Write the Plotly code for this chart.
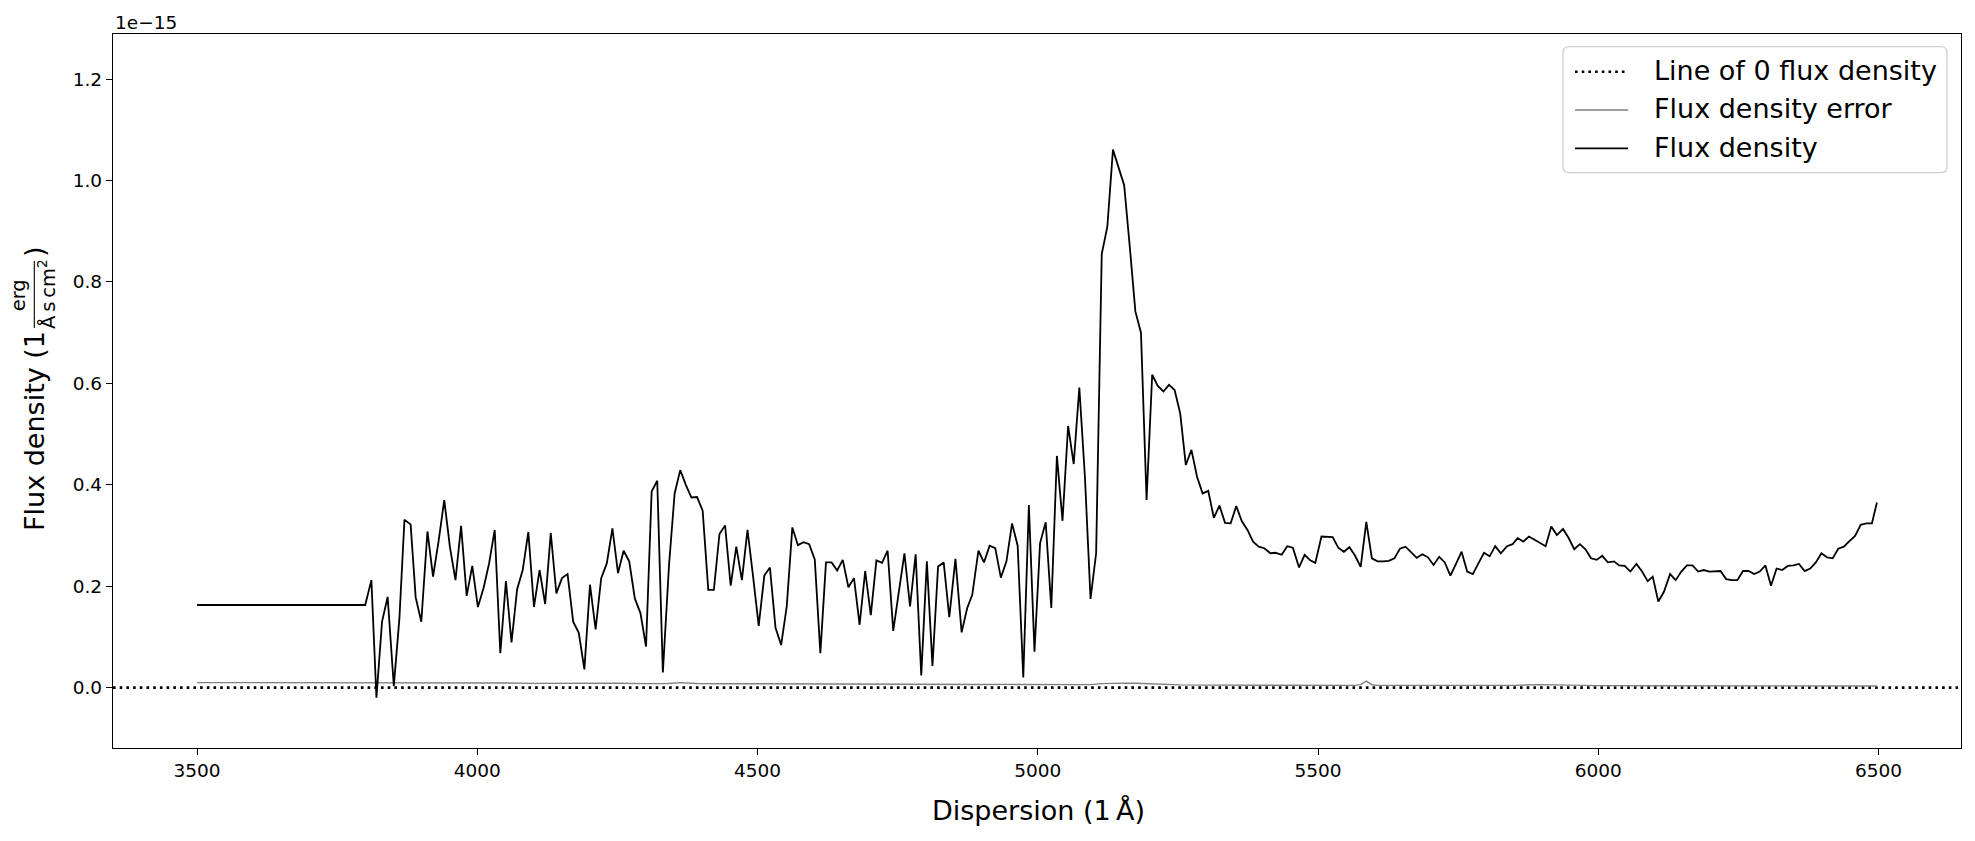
import plotly.graph_objects as go

# ---------------- data (flux in units of 1e-15 erg / (Å s cm²)) ----------------
wave = [3500, 3800, 3811, 3820, 3830, 3840, 3851, 3861, 3870, 3881, 3890, 3900,
        3911, 3921, 3931, 3941, 3951, 3961, 3971, 3981, 3991, 4001, 4011, 4021,
        4031, 4041, 4051, 4061, 4071, 4081, 4091, 4101, 4111, 4121, 4131, 4141,
        4151, 4161, 4171, 4181, 4191, 4201, 4211, 4221, 4231, 4241, 4251, 4261,
        4271, 4281, 4291, 4301, 4311, 4321, 4331, 4342, 4352, 4362, 4372, 4382,
        4392, 4402, 4412, 4422, 4432, 4442, 4452, 4462, 4472, 4482, 4492, 4502,
        4512, 4522, 4532, 4542, 4552, 4562, 4572, 4582, 4592, 4602, 4612, 4622,
        4632, 4642, 4652, 4662, 4672, 4682, 4692, 4702, 4712, 4722, 4732, 4742,
        4752, 4762, 4772, 4782, 4792, 4802, 4812, 4822, 4832, 4842, 4853, 4864,
        4874, 4883, 4894, 4904, 4914, 4924, 4934, 4944, 4954, 4964, 4974, 4984,
        4994, 5004, 5014, 5024, 5034, 5044, 5054, 5064, 5074, 5084, 5094, 5104,
        5114, 5124, 5134, 5144, 5154, 5164, 5174, 5184, 5194, 5204, 5214, 5224,
        5234, 5244, 5254, 5264, 5274, 5284, 5294, 5304, 5314, 5324, 5334, 5344,
        5354, 5364, 5374, 5384, 5394, 5404, 5415, 5424, 5435, 5445, 5455, 5466,
        5476, 5486, 5495, 5506, 5516, 5526, 5536, 5546, 5556, 5566, 5576, 5586,
        5596, 5606, 5616, 5626, 5636, 5646, 5656, 5666, 5676, 5686, 5696, 5706,
        5716, 5726, 5736, 5746, 5756, 5766, 5776, 5786, 5796, 5806, 5816, 5826,
        5837, 5847, 5856, 5866, 5876, 5887, 5897, 5906, 5916, 5926, 5937, 5947,
        5957, 5967, 5977, 5987, 5997, 6007, 6017, 6028, 6037, 6047, 6057, 6068,
        6078, 6088, 6097, 6107, 6117, 6128, 6138, 6148, 6158, 6168, 6178, 6188,
        6198, 6208, 6218, 6228, 6238, 6248, 6258, 6268, 6278, 6288, 6298, 6308,
        6318, 6328, 6338, 6348, 6358, 6368, 6378, 6388, 6398, 6408, 6418, 6428,
        6438, 6448, 6458, 6468, 6478, 6488, 6497]

flux = [0.163, 0.163, 0.212, -0.020, 0.130, 0.179, 0.003, 0.137, 0.331, 0.322, 0.178, 0.130,
        0.308, 0.219, 0.290, 0.370, 0.278, 0.212, 0.319, 0.181, 0.240, 0.159, 0.196, 0.245,
        0.311, 0.068, 0.210, 0.089, 0.194, 0.232, 0.307, 0.159, 0.232, 0.165, 0.305, 0.186,
        0.216, 0.224, 0.130, 0.108, 0.036, 0.203, 0.115, 0.216, 0.245, 0.314, 0.226, 0.270,
        0.249, 0.176, 0.147, 0.081, 0.387, 0.408, 0.030, 0.242, 0.383, 0.429, 0.400, 0.375,
        0.376, 0.349, 0.193, 0.193, 0.303, 0.320, 0.201, 0.278, 0.212, 0.311, 0.219, 0.122,
        0.221, 0.237, 0.118, 0.084, 0.160, 0.316, 0.281, 0.287, 0.283, 0.253, 0.068, 0.247,
        0.247, 0.231, 0.252, 0.198, 0.216, 0.124, 0.230, 0.143, 0.251, 0.246, 0.270, 0.112,
        0.189, 0.265, 0.160, 0.263, 0.024, 0.249, 0.043, 0.239, 0.247, 0.139, 0.254, 0.109,
        0.157, 0.183, 0.270, 0.247, 0.280, 0.275, 0.217, 0.249, 0.324, 0.280, 0.020, 0.360,
        0.071, 0.285, 0.326, 0.157, 0.457, 0.329, 0.516, 0.441, 0.592, 0.416, 0.175, 0.265,
        0.855, 0.909, 1.061, 1.026, 0.991, 0.870, 0.742, 0.700, 0.370, 0.617, 0.595, 0.584,
        0.597, 0.587, 0.541, 0.439, 0.469, 0.416, 0.383, 0.388, 0.335, 0.359, 0.325, 0.324,
        0.358, 0.328, 0.311, 0.288, 0.278, 0.275, 0.265, 0.266, 0.262, 0.279, 0.276, 0.237,
        0.262, 0.251, 0.246, 0.298, 0.297, 0.297, 0.276, 0.268, 0.277, 0.260, 0.238, 0.327,
        0.255, 0.249, 0.249, 0.250, 0.255, 0.274, 0.278, 0.268, 0.256, 0.263, 0.257, 0.242,
        0.258, 0.247, 0.221, 0.244, 0.268, 0.229, 0.224, 0.245, 0.266, 0.259, 0.279, 0.265,
        0.279, 0.283, 0.295, 0.288, 0.298, 0.291, 0.284, 0.279, 0.318, 0.301, 0.313, 0.295,
        0.273, 0.283, 0.273, 0.255, 0.252, 0.260, 0.247, 0.249, 0.241, 0.240, 0.229, 0.244,
        0.229, 0.210, 0.219, 0.170, 0.189, 0.224, 0.212, 0.229, 0.241, 0.241, 0.229, 0.232,
        0.229, 0.230, 0.230, 0.214, 0.212, 0.212, 0.230, 0.230, 0.224, 0.229, 0.241, 0.201,
        0.235, 0.232, 0.240, 0.241, 0.244, 0.230, 0.235, 0.247, 0.265, 0.257, 0.255, 0.274,
        0.278, 0.289, 0.299, 0.321, 0.324, 0.324, 0.365]

err_wave = [3500, 3800, 3811, 3830, 3860, 3900, 3950, 4000, 4050, 4100, 4150, 4200,
            4250, 4300, 4340, 4363, 4390, 4450, 4500, 4550, 4600, 4650, 4700, 4750,
            4800, 4850, 4900, 4950, 5000, 5050, 5094, 5114, 5134, 5154, 5174, 5194,
            5214, 5234, 5254, 5300, 5350, 5400, 5450, 5500, 5546, 5566, 5576, 5586,
            5596, 5606, 5650, 5700, 5750, 5800, 5850, 5894, 5950, 6000, 6100, 6200,
            6300, 6400, 6497]
err_flux = [0.0100, 0.0100, 0.0098, 0.0092, 0.0100, 0.0095, 0.0090, 0.0088, 0.0092, 0.0085, 0.0088, 0.0083,
            0.0086, 0.0080, 0.0082, 0.0100, 0.0082, 0.0078, 0.0075, 0.0077, 0.0072, 0.0070, 0.0072, 0.0068,
            0.0066, 0.0065, 0.0063, 0.0064, 0.0060, 0.0062, 0.0060, 0.0080, 0.0088, 0.0090, 0.0086, 0.0078,
            0.0072, 0.0065, 0.0055, 0.0050, 0.0048, 0.0046, 0.0045, 0.0045, 0.0044, 0.0045, 0.0060, 0.0130,
            0.0058, 0.0045, 0.0044, 0.0043, 0.0042, 0.0042, 0.0045, 0.0060, 0.0042, 0.0040, 0.0038, 0.0037,
            0.0036, 0.0035, 0.0034]

x_ticks = [3500, 4000, 4500, 5000, 5500, 6000, 6500]
y_ticks = [0.0, 0.2, 0.4, 0.6, 0.8, 1.0, 1.2]
legend_labels = ["Line of 0 flux density", "Flux density error", "Flux density"]

# ---------------- layout helpers (pixel -> paper) ----------------
W, H = 1975, 841
L, R, T, B = 113, 1961, 34, 748
FONT = "DejaVu Sans"


def px(xp):
    return (xp - L) / (R - L)


def py(yp):
    return (B - yp) / (B - T)


DOT = "2.6px,4.1px"

fig = go.Figure()
fig.add_trace(go.Scatter(x=err_wave, y=err_flux, mode="lines",
                         line=dict(color="#808080", width=1.4), showlegend=False,
                         name=legend_labels[1]))
fig.add_trace(go.Scatter(x=wave, y=flux, mode="lines",
                         line=dict(color="black", width=1.8), showlegend=False,
                         name=legend_labels[2]))

shapes = []
# zero line (axhline)
shapes.append(dict(type="line", xref="paper", yref="y", x0=0, x1=1, y0=0, y1=0,
                   line=dict(color="black", width=2.6, dash=DOT), layer="below"))

# custom matplotlib-like legend
lx0, lx1, ly0, ly1 = px(1563), px(1947), py(46.6), py(172.6)
rx, ry = 6 / (R - L), 6 / (B - T)
path = (f"M {lx0+rx},{ly0} L {lx1-rx},{ly0} Q {lx1},{ly0} {lx1},{ly0-ry} "
        f"L {lx1},{ly1+ry} Q {lx1},{ly1} {lx1-rx},{ly1} L {lx0+rx},{ly1} "
        f"Q {lx0},{ly1} {lx0},{ly1+ry} L {lx0},{ly0-ry} Q {lx0},{ly0} {lx0+rx},{ly0} Z")
shapes.append(dict(type="path", xref="paper", yref="paper", path=path,
                   fillcolor="rgba(255,255,255,0.8)",
                   line=dict(color="#d0d0d0", width=1.35), layer="above"))
rows = [71.7, 110.0, 148.3]
styles = [dict(color="black", width=2.6, dash=DOT),
          dict(color="#808080", width=1.4),
          dict(color="black", width=1.8)]
annotations = []
for yrow, st, lab in zip(rows, styles, legend_labels):
    shapes.append(dict(type="line", xref="paper", yref="paper",
                       x0=px(1575), x1=px(1628), y0=py(yrow), y1=py(yrow),
                       line=st, layer="above"))
    annotations.append(dict(xref="paper", yref="paper", x=px(1651.7), y=py(yrow - 1),
                            xanchor="left", yanchor="middle", showarrow=False,
                            text=lab, font=dict(family=FONT, size=27, color="black")))

# y-axis label built like matplotlib's mathtext fraction
annotations.append(dict(xref="paper", yref="paper", x=px(34), y=py(431),
                        xanchor="center", yanchor="middle", showarrow=False, textangle=-90,
                        text="Flux density (1", font=dict(family=FONT, size=27, color="black")))
annotations.append(dict(xref="paper", yref="paper", x=px(18.3), y=py(295),
                        xanchor="center", yanchor="middle", showarrow=False, textangle=-90,
                        text="erg", font=dict(family=FONT, size=19.5, color="black")))
annotations.append(dict(xref="paper", yref="paper", x=px(47), y=py(294),
                        xanchor="center", yanchor="middle", showarrow=False, textangle=-90,
                        text="Å\u2009s\u2009cm<sup>2</sup>",
                        font=dict(family=FONT, size=19.5, color="black")))
annotations.append(dict(xref="paper", yref="paper", x=px(34), y=py(252),
                        xanchor="center", yanchor="middle", showarrow=False, textangle=-90,
                        text=")", font=dict(family=FONT, size=27, color="black")))
shapes.append(dict(type="line", xref="paper", yref="paper",
                   x0=px(34.3), x1=px(34.3), y0=py(261), y1=py(328),
                   line=dict(color="black", width=1.1)))

# x-axis title
annotations.append(dict(xref="paper", yref="paper", x=px(1038), y=py(810.7),
                        xanchor="center", yanchor="middle", showarrow=False,
                        text="Dispersion (1\u2009Å)", font=dict(family=FONT, size=27, color="black")))
# offset text
annotations.append(dict(xref="paper", yref="paper", x=0, y=py(22.6),
                        xanchor="left", yanchor="middle", showarrow=False,
                        text="1e\u221215", font=dict(family=FONT, size=18.5, color="black")))

axis_common = dict(showgrid=False, zeroline=False, showline=True, mirror=True,
                   linecolor="black", linewidth=1.35, ticks="outside", ticklen=6,
                   tickwidth=1.35, tickcolor="black",
                   tickfont=dict(family=FONT, size=18.5, color="black"))

fig.update_layout(
    width=W, height=H, autosize=False,
    margin=dict(l=L, r=W - R, t=T, b=H - B, pad=0),
    paper_bgcolor="white", plot_bgcolor="white",
    font=dict(family=FONT, color="black"),
    xaxis=dict(range=[3350, 6647], tickvals=x_ticks,
               ticktext=[str(v) for v in x_ticks], **axis_common),
    yaxis=dict(range=[-0.119, 1.289], tickvals=y_ticks,
               ticktext=[f"{v:.1f}" for v in y_ticks], **axis_common),
    shapes=shapes, annotations=annotations, showlegend=False,
)

fig.write_html("out.html")
